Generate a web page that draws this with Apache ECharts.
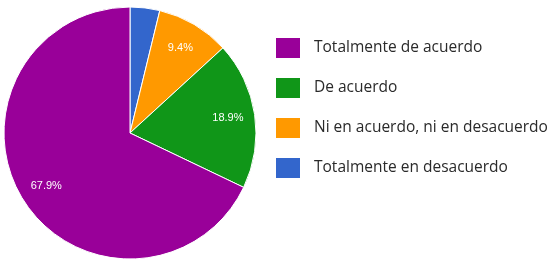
<!DOCTYPE html>
<html>
<head>
<meta charset="utf-8">
<script src="https://cdn.jsdelivr.net/npm/echarts@6/dist/echarts.min.js"></script>
<style>html,body{margin:0;padding:0;background:#fff}#c{width:559px;height:269px}</style>
</head>
<body>
<div id="c"></div>
<script>
// Slice order clockwise from 12 o'clock
const categories = ["Totalmente en desacuerdo", "Ni en acuerdo, ni en desacuerdo", "De acuerdo", "Totalmente de acuerdo"];
const values = [3.8, 9.4, 18.9, 67.9];
const colors = ["#3366cc", "#ff9900", "#109618", "#990099"];
const legendOrder = ["Totalmente de acuerdo", "De acuerdo", "Ni en acuerdo, ni en desacuerdo", "Totalmente en desacuerdo"];

const chart = echarts.init(document.getElementById('c'), null, {renderer: 'canvas'});
const mainData = categories.map((n, i) => ({name: n, value: values[i], itemStyle: {color: colors[i]}}));
const labelData = categories.map((n, i) => ({name: n, value: values[i], label: {show: values[i] >= 5}}));
chart.setOption({
  animation: false,
  legend: {
    orient: 'vertical',
    left: 269,
    top: 31,
    itemWidth: 26,
    itemHeight: 22,
    itemGap: 16,
    icon: 'rect',
    data: legendOrder,
    textStyle: {fontFamily: 'Open Sans', fontSize: 15.5, color: '#2a2a2a', padding: [7, 0, 0, 8]},
    selectedMode: false
  },
  series: [{
    type: 'pie',
    center: [130, 133],
    radius: [0, 126],
    startAngle: 90,
    clockwise: true,
    label: {show: false},
    labelLine: {show: false},
    itemStyle: {borderColor: '#fff', borderWidth: 1},
    emphasis: {disabled: true},
    data: mainData
  }, {
    type: 'pie',
    center: [130, 133],
    radius: [66, 126],
    startAngle: 90,
    clockwise: true,
    silent: true,
    itemStyle: {color: 'rgba(0,0,0,0)'},
    label: {show: true, position: 'inside', color: '#fff', fontFamily: 'Liberation Sans', fontSize: 11, formatter: p => p.value.toFixed(1) + '%'},
    labelLine: {show: false},
    emphasis: {disabled: true},
    data: labelData
  }]
});
</script>
</body>
</html>
